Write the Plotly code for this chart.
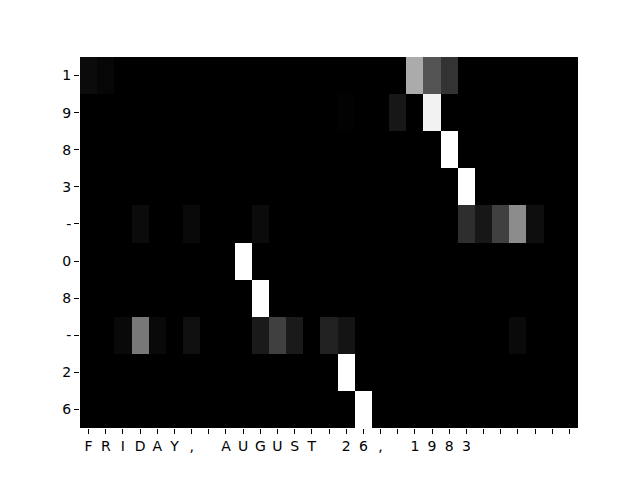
import plotly.graph_objects as go

# Input characters (columns) and output characters (rows)
input_chars = list("FRIDAY, AUGUST 26, 1983") + [""] * 6
output_chars = ["1", "9", "8", "3", "-", "0", "8", "-", "2", "6"]

n = len(input_chars)

def row(entries):
    r = [0.0] * n
    for i, v in entries.items():
        r[i] = v
    return r

row_1 = row({0: 0.045, 1: 0.025, 19: 0.67, 20: 0.33, 21: 0.2})
row_9 = row({15: 0.008, 18: 0.09, 20: 0.95})
row_8a = row({21: 1.0})
row_3 = row({22: 1.0})
row_dash_a = row({3: 0.045, 6: 0.035, 10: 0.045, 22: 0.18, 23: 0.09,
                  24: 0.25, 25: 0.55, 26: 0.055})
row_0 = row({9: 1.0})
row_8b = row({10: 1.0})
row_dash_b = row({2: 0.035, 3: 0.47, 4: 0.035, 6: 0.06, 10: 0.1, 11: 0.25,
                  12: 0.1, 14: 0.13, 15: 0.08, 25: 0.04})
row_2 = row({15: 1.0})
row_6 = row({16: 1.0})

attention = [row_1, row_9, row_8a, row_3, row_dash_a, row_0, row_8b,
             row_dash_b, row_2, row_6]

fig = go.Figure(go.Heatmap(
    z=attention,
    x=list(range(n)),
    y=list(range(len(output_chars))),
    colorscale=[[0, "black"], [1, "white"]],
    zmin=0, zmax=1,
    showscale=False,
    hoverinfo="skip",
))

font = dict(family="DejaVu Sans", size=14, color="black")
fig.update_layout(
    width=640, height=480,
    margin=dict(l=72, r=70, t=49, b=60, pad=0, autoexpand=False),
    paper_bgcolor="white", plot_bgcolor="black",
    font=font,
    xaxis=dict(
        tickmode="array", tickvals=list(range(n)), ticktext=input_chars,
        range=[-0.5, n - 0.5], ticks="outside", ticklen=5, tickwidth=1,
        tickcolor="black", showgrid=False, zeroline=False, tickangle=0,
        tickfont=font, showline=False, automargin=False,
    ),
    yaxis=dict(
        tickmode="array", tickvals=list(range(len(output_chars))),
        ticktext=output_chars, range=[len(output_chars) - 0.5, -0.5],
        ticks="outside", ticklen=5, tickwidth=1, tickcolor="black",
        showgrid=False, zeroline=False, tickfont=font, showline=False,
        automargin=False,
    ),
)

fig.write_html("out.html")
